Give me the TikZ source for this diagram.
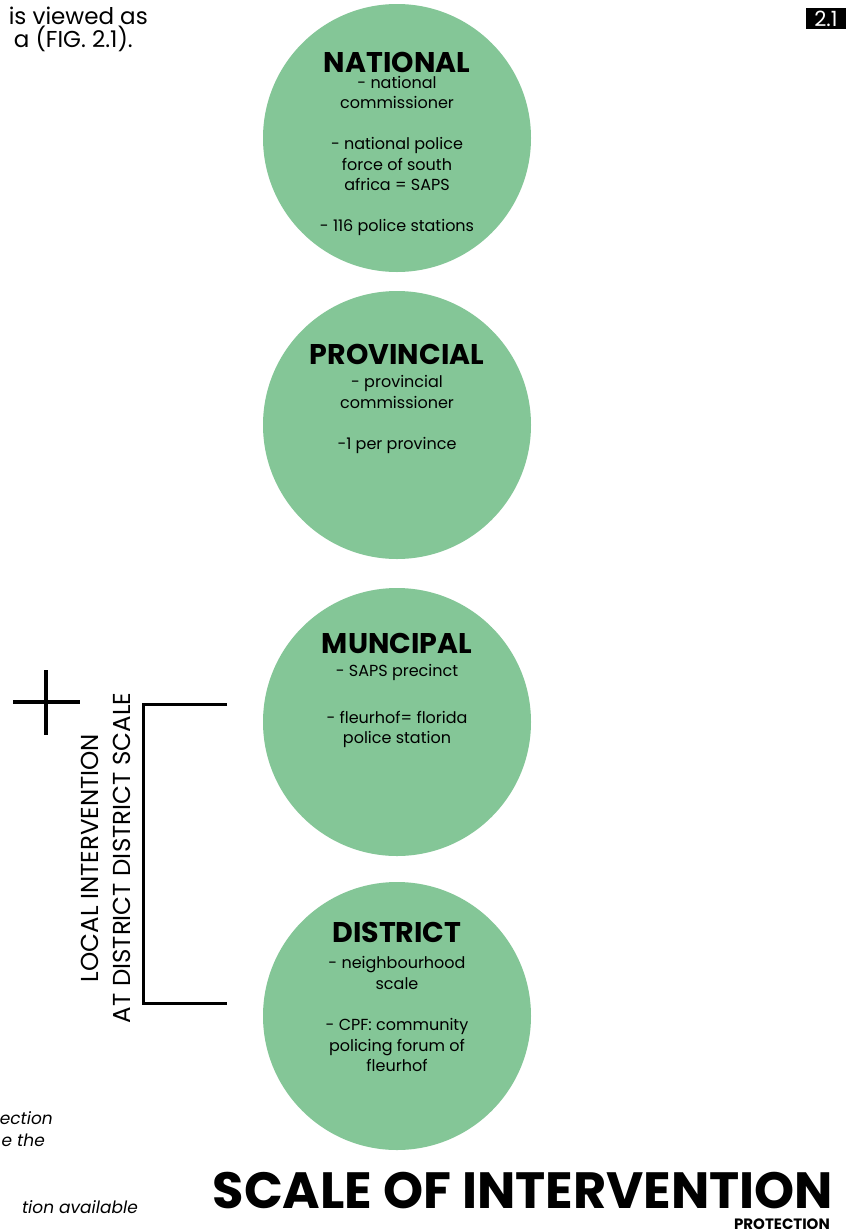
\documentclass[tikz,border=0pt]{standalone}
\usepackage{fontspec}
\setmainfont{Poppins}
\usetikzlibrary{positioning}
\definecolor{scalegreen}{RGB}{132,198,151}

\begin{document}
\begin{tikzpicture}[x=1pt, y=-1pt, inner sep=0pt,
		level/.style={circle, fill=scalegreen, minimum size=268pt},
		heading/.style={font=\bfseries\fontsize{28.5}{30}\selectfont},
		points/.style={align=center, anchor=north, font=\fontsize{16}{20.5}\selectfont},
		bracket/.style={line width=3pt}]
		\useasboundingbox[fill=white] (0,0) rectangle (862,1232);

			% text running in from the page
			\node[anchor=east, font=\fontsize{23}{26}\selectfont] (introa) at (148,16) {is viewed as};
			\node[anchor=east, font=\fontsize{23}{26}\selectfont] (introb) at (133,39) {a (FIG. 2.1).};
			\node[fill=black, text=white, minimum width=40pt, minimum height=21pt, font=\fontsize{21}{21}\selectfont] (fig) at (826,18.5) {2.1};

			\node[level] (national) at (397,138) {};
			\node[level] (provincial) at (397,425) {};
			\node[level] (muncipal) at (397,722) {};
			\node[level] (district) at (397,1016) {};

			\node[heading] (nathead) at (397,62) {NATIONAL};
			\node[points] (natpoints) at (397,76) {- national\\commissioner\\[20.5pt]- national police\\force of south\\africa = SAPS\\[20.5pt]- 116 police stations};
			\node[heading] (provhead) at (397,354) {PROVINCIAL};
			\node[points] (provpoints) at (397,375.5) {- provincial\\commissioner\\[20.5pt]-1 per province};
			\node[heading] (munhead) at (397,643) {MUNCIPAL};
			\node[points] (munpoints) at (397,664.5) {- SAPS precinct\\[26pt]- fleurhof= florida\\police station};
			\node[heading] (disthead) at (397,932) {DISTRICT};
			\node[points] (distpoints) at (397,956.5) {- neighbourhood\\scale\\[21pt]- CPF: community\\policing forum of\\fleurhof};

			% local scale bracket
			\draw[line width=4pt] (13,702) -- (80,702) (46,670) -- (46,735);
			\node[rotate=90, align=center, font=\fontsize{24.5}{32}\selectfont] (local) at (106,858) {LOCAL INTERVENTION\\AT DISTRICT DISTRICT SCALE};
			\coordinate (brtop) at (227,704);
			\coordinate (brbot) at (227,1003);
			\draw[bracket] (brtop) -- ++(-84,0) |- (brbot);

			\node[anchor=east, font=\itshape\fontsize{17}{22}\selectfont] (notea) at (53,1118) {ection};
			\node[anchor=east, font=\itshape\fontsize{17}{22}\selectfont] (noteb) at (45,1140) {e the};
			\node[anchor=east, font=\itshape\fontsize{17}{22}\selectfont] (notec) at (138,1207) {tion available};

			\node[font=\bfseries\fontsize{51}{51}\selectfont] (title) at (523,1191) {SCALE OF INTERVENTION};
			\node[anchor=base east, font=\bfseries\fontsize{15}{15}\selectfont] (sub) at (830,1229) {PROTECTION};
		\end{tikzpicture}
\end{document}
